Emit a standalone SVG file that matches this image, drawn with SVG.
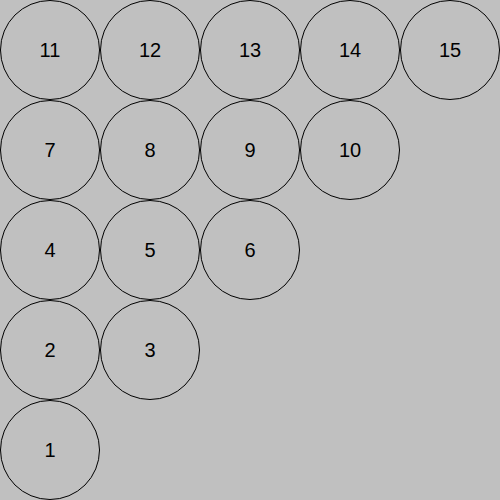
<svg xmlns="http://www.w3.org/2000/svg" width="500" height="500" viewBox="0 0 500 500">
<style>
.n circle{fill:none;stroke:#000;stroke-width:1}
.n text{font-family:"Liberation Sans",Arial,sans-serif;font-size:20px;fill:#000;text-anchor:middle}
</style>
<rect width="500" height="500" fill="#c0c0c0"/>
<g id="node1" class="n"><circle cx="50" cy="450" r="49.5"/><text x="50" y="456.5">1</text></g>
<g id="node2" class="n"><circle cx="50" cy="350" r="49.5"/><text x="50" y="356.5">2</text></g>
<g id="node3" class="n"><circle cx="150" cy="350" r="49.5"/><text x="150" y="356.5">3</text></g>
<g id="node4" class="n"><circle cx="50" cy="250" r="49.5"/><text x="50" y="256.5">4</text></g>
<g id="node5" class="n"><circle cx="150" cy="250" r="49.5"/><text x="150" y="256.5">5</text></g>
<g id="node6" class="n"><circle cx="250" cy="250" r="49.5"/><text x="250" y="256.5">6</text></g>
<g id="node7" class="n"><circle cx="50" cy="150" r="49.5"/><text x="50" y="156.5">7</text></g>
<g id="node8" class="n"><circle cx="150" cy="150" r="49.5"/><text x="150" y="156.5">8</text></g>
<g id="node9" class="n"><circle cx="250" cy="150" r="49.5"/><text x="250" y="156.5">9</text></g>
<g id="node10" class="n"><circle cx="350" cy="150" r="49.5"/><text x="350" y="156.5">10</text></g>
<g id="node11" class="n"><circle cx="50" cy="50" r="49.5"/><text x="50" y="56.5">11</text></g>
<g id="node12" class="n"><circle cx="150" cy="50" r="49.5"/><text x="150" y="56.5">12</text></g>
<g id="node13" class="n"><circle cx="250" cy="50" r="49.5"/><text x="250" y="56.5">13</text></g>
<g id="node14" class="n"><circle cx="350" cy="50" r="49.5"/><text x="350" y="56.5">14</text></g>
<g id="node15" class="n"><circle cx="450" cy="50" r="49.5"/><text x="450" y="56.5">15</text></g>
<g id="connectors"></g>
</svg>
